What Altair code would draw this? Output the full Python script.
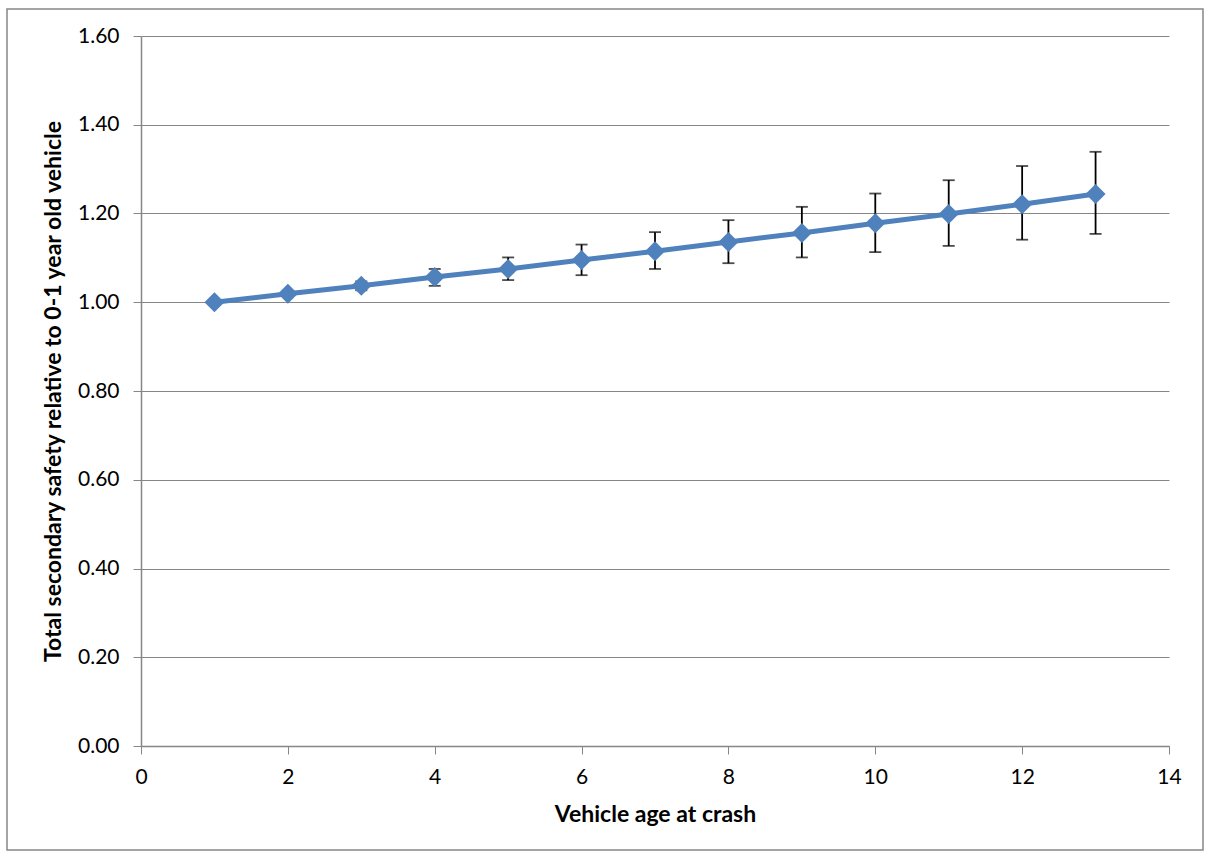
import altair as alt
import pandas as pd

# Vehicle age at crash (years) and relative total secondary safety
age = [1, 2, 3, 4, 5, 6, 7, 8, 9, 10, 11, 12, 13]
safety = [1.000, 1.019, 1.037, 1.057, 1.075, 1.095, 1.115, 1.136, 1.156, 1.178, 1.199, 1.221, 1.244]
lower = [1.000, 1.015, 1.027, 1.037, 1.050, 1.061, 1.075, 1.088, 1.101, 1.113, 1.127, 1.141, 1.154]
upper = [1.000, 1.023, 1.047, 1.075, 1.101, 1.130, 1.158, 1.185, 1.215, 1.245, 1.275, 1.307, 1.339]

df = pd.DataFrame({"age": age, "safety": safety, "lower": lower, "upper": upper})

FONT = "Lato"
BLUE = "#4F81BD"
GRID = "#868686"

x_enc = alt.X("age:Q", scale=alt.Scale(domain=[0, 14], nice=False),
              axis=alt.Axis(values=list(range(0, 15, 2)), format="d",
                            title="Vehicle age at crash", labelFlush=False,
                            grid=False, titlePadding=16, labelPadding=12))
y_enc = alt.Y("safety:Q", scale=alt.Scale(domain=[0, 1.6], nice=False),
              axis=alt.Axis(values=[i * 0.2 for i in range(9)], format=".2f",
                            title="Total secondary safety relative to 0-1 year old vehicle",
                            labelFlush=False, titlePadding=12, labelPadding=14))

base = alt.Chart(df)

# outer frame around the whole figure
frame = base.mark_rect(fill=None, stroke=GRID, strokeWidth=1.5, clip=False).encode(
    x=alt.value(-134), x2=alt.value(1062), y=alt.value(-27), y2=alt.value(104 + 710)
).transform_filter(alt.datum.age == 1)

bars = base.mark_rule(color="black", strokeWidth=1.8).encode(
    x=x_enc, y=alt.Y("lower:Q"), y2="upper:Q"
)
cap_lo = base.mark_tick(color="black", orient="horizontal", size=12, thickness=1.8).encode(
    x="age:Q", y="lower:Q"
)
cap_hi = base.mark_tick(color="black", orient="horizontal", size=12, thickness=1.8).encode(
    x="age:Q", y="upper:Q"
)
line = base.mark_line(color=BLUE, strokeWidth=5).encode(x=x_enc, y=y_enc)
pts = base.mark_point(shape="diamond", filled=True, color=BLUE, size=400, opacity=1).encode(
    x="age:Q", y="safety:Q"
)

chart = alt.layer(frame, bars, cap_lo, cap_hi, line, pts).properties(
    width=1028, height=710,
    autosize=alt.AutoSizeParams(type="none"),
    padding={"left": 141, "top": 36, "right": 40, "bottom": 110},
    background="white",
).configure_view(stroke=None).configure_axis(
    labelFont=FONT, titleFont=FONT, labelFontSize=21, titleFontSize=23,
    labelColor="black", titleColor="black", titleFontWeight="bold",
    domainColor=GRID, tickColor=GRID, gridColor=GRID, domainWidth=1.5, gridWidth=1.2,
    tickSize=8,
)

chart.save("out.html", embed_options={"renderer": "svg", "actions": False})
